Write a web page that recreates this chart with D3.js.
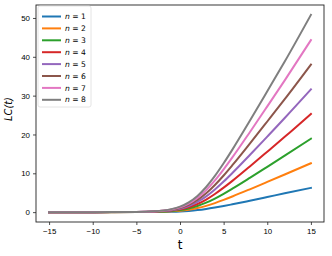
<!DOCTYPE html>
<head>
    <meta charset="utf-8">
    <title>LC(t)</title>
    <script src="https://d3js.org/d3.v7.min.js"></script>
    <style>
        body { margin: 0; background: #fff; }
        svg { display: block; font-family: "DejaVu Sans", sans-serif; }
        .tick text { font-size: 7.9px; fill: #000; }
    </style>
</head>
<body>
    <div id="container"></div>
    <script>
        //------------------------DATA------------------------//
        var tValues = [-15, -10, -5, -3, -1, 0, 1, 2, 3, 4, 5, 6, 8, 10, 12, 15];
        var lc1 = [0, 0, 0.01, 0.03, 0.10, 0.18, 0.32, 0.52, 0.81, 1.17, 1.57, 2.01, 2.94, 3.89, 4.85, 6.25];
        var lc2 = [0, 0, 0.01, 0.05, 0.20, 0.36, 0.63, 1.05, 1.62, 2.33, 3.15, 4.03, 5.88, 7.78, 9.70, 12.6];
        var lc3 = [0, 0, 0.02, 0.08, 0.29, 0.53, 0.95, 1.57, 2.43, 3.50, 4.72, 6.04, 8.82, 11.67, 14.54, 18.9];
        var lc4 = [0, 0, 0.03, 0.11, 0.39, 0.71, 1.26, 2.09, 3.24, 4.67, 6.30, 8.05, 11.76, 15.56, 19.39, 25.3];
        var lc5 = [0, 0, 0.04, 0.14, 0.49, 0.89, 1.58, 2.62, 4.05, 5.84, 7.87, 10.07, 14.70, 19.45, 24.24, 31.6];
        var lc6 = [0, 0, 0.04, 0.16, 0.59, 1.07, 1.89, 3.14, 4.86, 7.00, 9.44, 12.08, 17.64, 23.34, 29.09, 38.0];
        var lc7 = [0, 0, 0.05, 0.19, 0.69, 1.25, 2.21, 3.66, 5.67, 8.17, 11.02, 14.09, 20.58, 27.23, 33.94, 44.3];
        var lc8 = [0, 0, 0.06, 0.22, 0.78, 1.42, 2.52, 4.18, 6.48, 9.34, 12.59, 16.10, 23.52, 31.12, 38.78, 50.8];
        var seriesNames = ["1", "2", "3", "4", "5", "6", "7", "8"];
        var seriesValues = [lc1, lc2, lc3, lc4, lc5, lc6, lc7, lc8];
        var xTicks = [-15, -10, -5, 0, 5, 10, 15];
        var yTicks = [0, 10, 20, 30, 40, 50];
        var colors = ["#1f77b4", "#ff7f0e", "#2ca02c", "#d62728", "#9467bd", "#8c564b", "#e377c2", "#7f7f7f"];

        //------------------------SVG------------------------//
        var width = 332, height = 256;
        var margin = { top: 5, right: 8, bottom: 34, left: 36 };
        var innerW = width - margin.left - margin.right,
            innerH = height - margin.top - margin.bottom;

        var svg = d3.select("#container").append("svg")
            .attr("width", width)
            .attr("height", height);

        var g = svg.append("g")
            .attr("transform", "translate(" + margin.left + "," + margin.top + ")");

        //------------------------SCALES------------------------//
        var xScale = d3.scaleLinear().domain([-16.5, 16.5]).range([0, innerW]);
        var yScale = d3.scaleLinear().domain([-2.54, 53.34]).range([innerH, 0]);

        //------------------------LINES------------------------//
        var line = d3.line()
            .x(function (d) { return xScale(d[0]); })
            .y(function (d) { return yScale(d[1]); })
            .curve(d3.curveMonotoneX);

        g.selectAll(".series")
            .data(seriesValues)
            .join("path")
            .attr("class", "series")
            .attr("fill", "none")
            .attr("stroke", function (d, i) { return colors[i]; })
            .attr("stroke-width", 2)
            .attr("stroke-linecap", "square")
            .attr("d", function (vals) { return line(tValues.map(function (t, j) { return [t, vals[j]]; })); });

        //------------------------AXES------------------------//
        var fmt = function (d) { return d < 0 ? "\u2212" + Math.abs(d) : d; };

        g.append("g")
            .attr("transform", "translate(0," + innerH + ")")
            .call(d3.axisBottom(xScale).tickValues(xTicks).tickSize(3).tickPadding(3).tickFormat(fmt))
            .call(function (a) { a.select(".domain").remove(); });

        g.append("g")
            .call(d3.axisLeft(yScale).tickValues(yTicks).tickSize(3).tickPadding(3).tickFormat(fmt))
            .call(function (a) { a.select(".domain").remove(); });

        g.selectAll(".tick line").attr("stroke", "#222").attr("stroke-width", 0.8);

        // frame
        g.append("rect")
            .attr("x", 0).attr("y", 0)
            .attr("width", innerW).attr("height", innerH)
            .attr("fill", "none")
            .attr("stroke", "#222")
            .attr("stroke-width", 0.9);

        // axis labels
        svg.append("text")
            .attr("x", margin.left + xScale(0))
            .attr("y", 249)
            .attr("text-anchor", "middle")
            .style("font-size", "12px")
            .text("t");

        svg.append("text")
            .attr("transform", "translate(12," + 109 + ") rotate(-90)")
            .attr("text-anchor", "middle")
            .style("font-size", "9.8px")
            .style("font-style", "italic")
            .text("LC(t)");

        //------------------------LEGEND------------------------//
        var legend = g.append("g").attr("transform", "translate(2,1)");

        legend.append("rect")
            .attr("width", 53).attr("height", 101)
            .attr("rx", 2)
            .attr("fill", "#fff")
            .attr("fill-opacity", 0.8)
            .attr("stroke", "#ddd")
            .attr("stroke-width", 0.8);

        var item = legend.selectAll(".legend")
            .data(seriesNames)
            .join("g")
            .attr("class", "legend")
            .attr("transform", function (d, i) { return "translate(0," + (10.5 + i * 11.9) + ")"; });

        item.append("line")
            .attr("x1", 4).attr("x2", 23)
            .attr("stroke", function (d, i) { return colors[i]; })
            .attr("stroke-width", 2);

        var lbl = item.append("text")
            .attr("x", 27)
            .attr("dy", "0.35em")
            .style("font-size", "7.6px");
        lbl.append("tspan").style("font-style", "italic").text("n");
        lbl.append("tspan").text(function (d) { return " = " + d; });
    </script>
</body>
